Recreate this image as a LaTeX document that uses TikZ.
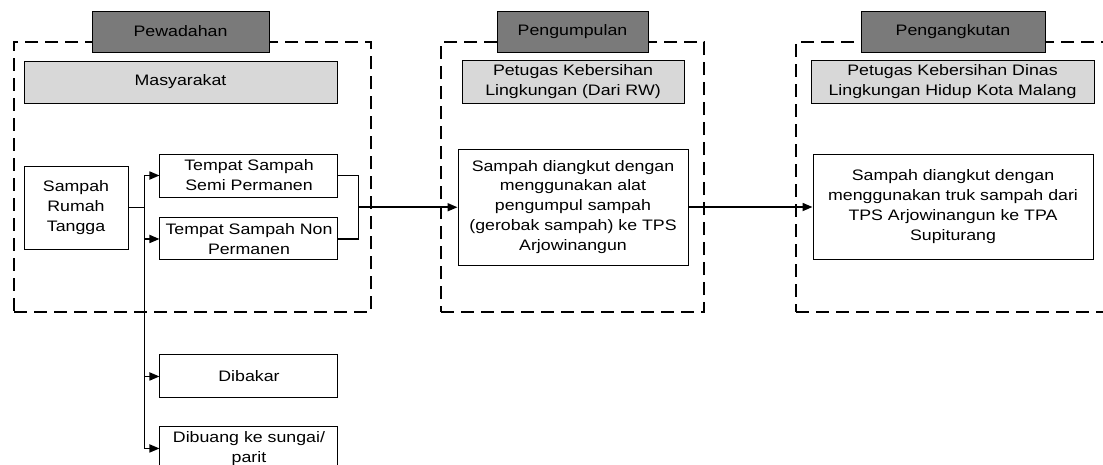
\documentclass[tikz,border=0pt]{standalone}
\usepackage{fontspec}
\setmainfont[FakeStretch=1.17]{Liberation Sans}
\usepackage{xcolor}
\usetikzlibrary{positioning, arrows.meta, calc}
\definecolor{headgray}{RGB}{122,122,122}
\definecolor{rolegray}{RGB}{216,216,216}

\begin{document}
\begin{tikzpicture}[
    frame/.style={rectangle, draw=black, line width=1.2pt, dash pattern=on 0.33cm off 0.17cm, minimum height=6.75cm},
    head/.style={rectangle, draw=black, line width=0.7pt, fill=headgray, minimum height=1.025cm},
    role/.style={rectangle, draw=black, line width=0.7pt, fill=rolegray, minimum height=1.05cm, align=center},
    box/.style={rectangle, draw=black, line width=0.7pt, fill=white, align=center, inner sep=1pt},
    link/.style={line width=1.2pt},
    arr/.style={link, -{Stealth[length=2.5mm, width=2mm, inset=0pt]}},
    every node/.style={font=\fontsize{10.8pt}{14.2pt}\selectfont}
]
\useasboundingbox (0,0) rectangle (27.575,-11.6);

% dashed frames
\node[frame, minimum width=8.925cm] (frameA) at (4.8125,-4.425) {};
\node[frame, minimum width=6.575cm] (frameB) at (14.3125,-4.425) {};
\node[frame, minimum width=7.85cm] (frameC) at (23.825,-4.425) {};

% stage headers
\node[head, minimum width=4.425cm] (Pewadahan) at (4.5125,-0.7875) {Pewadahan};
\node[head, minimum width=3.775cm] (Pengumpulan) at (14.3125,-0.7875) {Pengumpulan};
\node[head, minimum width=4.6cm] (Pengangkutan) at (23.825,-0.7875) {Pengangkutan};

% actors
\node[role, minimum width=7.825cm] (Masyarakat) at (4.5125,-2.05) {Masyarakat};
\node[role, minimum width=5.55cm] (PetugasRW) at (14.325,-2.05) {Petugas Kebersihan\\Lingkungan (Dari RW)};
\node[role, minimum width=7.075cm] (PetugasDLH) at (23.8125,-2.05) {Petugas Kebersihan Dinas\\Lingkungan Hidup Kota Malang};

% pewadahan
\node[box, minimum width=2.6cm, minimum height=2.075cm] (SRT) at (1.9,-5.1875) {Sampah\\Rumah\\Tangga};
\node[box, minimum width=4.45cm, minimum height=1.075cm, right=0.775cm of SRT, yshift=0.8cm] (Semi) {Tempat Sampah\\Semi Permanen};
\node[box, minimum width=4.45cm, minimum height=1.05cm, below=0.5cm of Semi] (Non) {Tempat Sampah Non\\Permanen};
\node[box, minimum width=4.45cm, minimum height=1.075cm, below=2.35cm of Non] (Dibakar) {Dibakar};
\node[box, minimum width=4.45cm, minimum height=1.075cm, below=0.7cm of Dibakar] (Dibuang) {Dibuang ke sungai/\\parit};

% pengumpulan and pengangkutan
\node[box, minimum width=5.75cm, minimum height=2.9cm] (Gerobak) at (14.325,-5.175) {Sampah diangkut dengan\\menggunakan alat\\pengumpul sampah\\(gerobak sampah) ke TPS\\Arjowinangun};
\node[box, minimum width=7cm, minimum height=2.625cm] (Truk) at (23.825,-5.175) {Sampah diangkut dengan\\menggunakan truk sampah dari\\TPS Arjowinangun ke TPA\\Supiturang};

% arrows from Sampah Rumah Tangga
\coordinate (split) at ($(SRT.east)+(0.4,0)$);
\draw[link] (SRT.east) -- (split);
\draw[arr] (split) |- (Semi.west);
\draw[arr] (split) |- (Non.west);
\draw[arr] (split) |- (Dibakar.west);
\draw[arr] (split) |- (Dibuang.west);

% join to pengumpulan
\coordinate (merge) at ($($(Semi.east)!0.5!(Non.east)$)+(0.5,0)$);
\draw[link] (Semi.east) -| (merge);
\draw[link] (Non.east) -| (merge);
\draw[arr] (merge) -- (merge -| Gerobak.west);

% to pengangkutan
\draw[arr] (Gerobak.east) -- (Gerobak.east -| Truk.west);

\end{tikzpicture}
\end{document}
